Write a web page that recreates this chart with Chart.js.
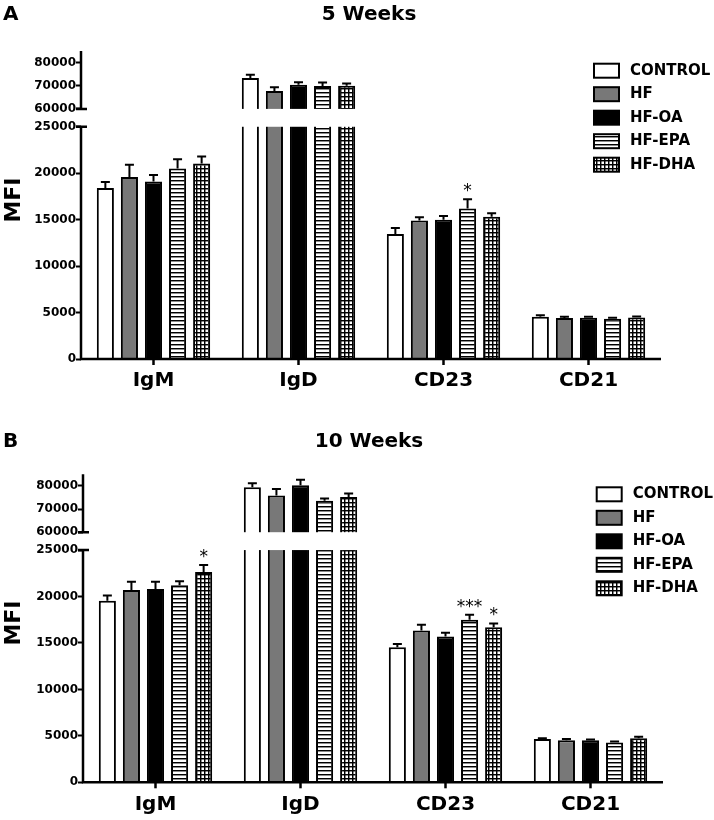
<!DOCTYPE html>
<html>
<head>
<meta charset="utf-8">
<script src="https://cdn.jsdelivr.net/npm/chart.js@4.4.1/dist/chart.umd.min.js"></script>
<style>
  html, body { margin: 0; padding: 0; background: #fff; }
  canvas { display: block; }
</style>
</head>
<body>
<canvas id="week5" width="714" height="410"></canvas>
<canvas id="week10" width="714" height="410"></canvas>
<script>
const categories = ['IgM', 'IgD', 'CD23', 'CD21'];
const groups = ['CONTROL', 'HF', 'HF-OA', 'HF-EPA', 'HF-DHA'];
const yTicks = [0, 5000, 10000, 15000, 20000, 25000, 60000, 70000, 80000];

// rows follow `groups`, columns follow `categories`
const mean5wk = [
  [18400, 73300, 13450, 4550],
  [19600, 67700, 14900, 4420],
  [19100, 70400, 15000, 4450],
  [20500, 69900, 16200, 4340],
  [21050, 70000, 15300, 4480],
];
const sem5wk = [
  [650, 1400, 650, 150],
  [1300, 1600, 350, 130],
  [700, 1100, 400, 100],
  [1000, 1500, 1000, 100],
  [750, 1000, 400, 100],
];
const sig5wk = [
  ['', '', '', ''],
  ['', '', '', ''],
  ['', '', '', ''],
  ['', '', '*', ''],
  ['', '', '', ''],
];

const mean10wk = [
  [19550, 79450, 14550, 4670],
  [20700, 75900, 16350, 4530],
  [20800, 80300, 15700, 4530],
  [21200, 73600, 17500, 4290],
  [22650, 75200, 16700, 4750],
];
const sem10wk = [
  [550, 1700, 350, 80],
  [900, 2700, 600, 120],
  [800, 2300, 400, 90],
  [450, 1000, 550, 90],
  [750, 1500, 400, 150],
];
const sig10wk = [
  ['', '', '', ''],
  ['', '', '', ''],
  ['', '', '', ''],
  ['', '', '***', ''],
  ['*', '', '*', ''],
];

// broken y axis: 0-25000 below the gap, 60000-85000 above it
const LOW_MAX = 25000;
const HIGH_MIN = 60000;
const AXIS_MAX = 85000;
const LOW_FRAC = 0.754;
const HIGH_FRAC = 0.812;

class BrokenLinearScale extends Chart.LinearScale {
  static id = 'brokenLinear';
  static defaults = Chart.LinearScale.defaults;

  buildTicks() {
    this.min = 0;
    this.max = AXIS_MAX;
    this.start = 0;
    this.end = AXIS_MAX;
    return yTicks.map(v => ({ value: v }));
  }

  toFrac(v) {
    if (v <= LOW_MAX) return v / LOW_MAX * LOW_FRAC;
    if (v >= HIGH_MIN) return HIGH_FRAC + (v - HIGH_MIN) / (AXIS_MAX - HIGH_MIN) * (1 - HIGH_FRAC);
    return LOW_FRAC + (v - LOW_MAX) / (HIGH_MIN - LOW_MAX) * (HIGH_FRAC - LOW_FRAC);
  }

  getPixelForValue(value) {
    return this.bottom - this.toFrac(value) * (this.bottom - this.top);
  }

  getValueForPixel(pixel) {
    const f = (this.bottom - pixel) / (this.bottom - this.top);
    if (f <= LOW_FRAC) return f / LOW_FRAC * LOW_MAX;
    if (f >= HIGH_FRAC) return HIGH_MIN + (f - HIGH_FRAC) / (1 - HIGH_FRAC) * (AXIS_MAX - HIGH_MIN);
    return LOW_MAX + (f - LOW_FRAC) / (HIGH_FRAC - LOW_FRAC) * (HIGH_MIN - LOW_MAX);
  }
}
Chart.register(BrokenLinearScale);

const FONT = '"DejaVu Sans", Arial, sans-serif';

function makePattern(grid) {
  const c = document.createElement('canvas');
  c.width = 4;
  c.height = 4;
  const g = c.getContext('2d');
  g.fillStyle = '#fff';
  g.fillRect(0, 0, 4, 4);
  g.fillStyle = '#000';
  g.fillRect(0, 0, 4, 1);
  g.fillStyle = 'rgba(0,0,0,0.45)';
  g.fillRect(0, 1, 4, 1);
  if (grid) {
    g.fillStyle = '#000';
    g.fillRect(0, 0, 1, 4);
    g.fillStyle = 'rgba(0,0,0,0.45)';
    g.fillRect(1, 0, 1, 4);
  }
  return g.createPattern(c, 'repeat');
}

const fills = ['#ffffff', '#787878', '#000000', makePattern(false), makePattern(true)];

// error bars, axis break, stars, legend and headings
const decorPlugin = {
  id: 'decor',
  afterDatasetsDraw(chart, args, opts) {
    const { ctx, chartArea: a, scales: { y } } = chart;
    const yLow = y.getPixelForValue(LOW_MAX);
    const yHigh = y.getPixelForValue(HIGH_MIN);
    ctx.save();
    ctx.fillStyle = '#fff';
    ctx.fillRect(a.left, yHigh, a.right - a.left + 2, yLow - yHigh);

    ctx.strokeStyle = '#000';
    ctx.fillStyle = '#000';
    ctx.lineWidth = 2;
    ctx.font = '17px ' + FONT;
    ctx.textAlign = 'center';
    ctx.textBaseline = 'alphabetic';
    chart.data.datasets.forEach((ds, i) => {
      chart.getDatasetMeta(i).data.forEach((bar, j) => {
        const top = y.getPixelForValue(ds.data[j] + ds.errors[j]);
        ctx.beginPath();
        ctx.moveTo(bar.x, bar.y);
        ctx.lineTo(bar.x, top);
        ctx.moveTo(bar.x - 4.5, top);
        ctx.lineTo(bar.x + 4.5, top);
        ctx.stroke();
        if (ds.stars[j]) ctx.fillText(ds.stars[j], bar.x, top - 3);
      });
    });

    ctx.lineWidth = 2.5;
    ctx.beginPath();
    ctx.moveTo(a.left, a.bottom);
    ctx.lineTo(a.left, yLow);
    ctx.moveTo(a.left, yHigh);
    ctx.lineTo(a.left, a.top);
    ctx.moveTo(a.left - 5, yLow);
    ctx.lineTo(a.left + 6, yLow);
    ctx.moveTo(a.left - 5, yHigh);
    ctx.lineTo(a.left + 6, yHigh);
    ctx.moveTo(a.left - 1.25, a.bottom);
    ctx.lineTo(a.right, a.bottom);
    ctx.stroke();
    ctx.restore();
  },
  afterDraw(chart, args, opts) {
    const { ctx } = chart;
    ctx.save();
    ctx.fillStyle = '#000';
    ctx.textBaseline = 'alphabetic';
    ctx.font = 'bold 20px ' + FONT;
    ctx.textAlign = 'left';
    ctx.fillText(opts.letter, 3, opts.headY);
    ctx.textAlign = 'center';
    ctx.fillText(opts.title, 369, opts.headY);

    ctx.save();
    ctx.font = 'bold 22px ' + FONT;
    ctx.translate(20, opts.mfiY);
    ctx.rotate(-Math.PI / 2);
    ctx.fillText('MFI', 0, 0);
    ctx.restore();

    ctx.font = 'bold 15px ' + FONT;
    ctx.textAlign = 'left';
    ctx.textBaseline = 'middle';
    ctx.strokeStyle = '#000';
    ctx.lineWidth = 2;
    chart.data.datasets.forEach((ds, i) => {
      const cy = opts.legendY + i * 23.5;
      ctx.fillStyle = ds.backgroundColor;
      ctx.fillRect(opts.legendX, cy - 7, 25, 14);
      ctx.strokeRect(opts.legendX, cy - 7, 25, 14);
      ctx.fillStyle = '#000';
      ctx.fillText(ds.label, opts.legendX + 36, cy);
    });
    ctx.restore();
  }
};

function drawPanel(canvasId, means, sems, sigs, box, decor) {
  const datasets = groups.map((g, i) => ({
    label: g,
    data: means[i],
    errors: sems[i],
    stars: sigs[i],
    backgroundColor: fills[i],
    borderColor: '#000',
    borderWidth: 2,
    borderSkipped: 'start',
    barPercentage: 0.71,
    categoryPercentage: 0.83,
  }));

  return new Chart(document.getElementById(canvasId), {
    type: 'bar',
    data: { labels: categories, datasets: datasets },
    options: {
      responsive: false,
      animation: false,
      events: [],
      layout: { padding: { top: box.top, left: 0, right: 714 - box.right, bottom: 0 } },
      scales: {
        x: {
          grid: { display: true, drawOnChartArea: false, offset: false, color: '#000', tickLength: 6, tickWidth: 2.5 },
          border: { display: false },
          ticks: { color: '#000', padding: 4, font: { family: FONT, weight: 'bold', size: 20 } },
          afterFit: (s) => { s.height = 410 - box.bottom; },
        },
        y: {
          type: 'brokenLinear',
          min: 0,
          max: AXIS_MAX,
          grid: { display: true, drawOnChartArea: false, color: '#000', tickLength: 5, tickWidth: 2 },
          border: { display: false },
          ticks: {
            autoSkip: false,
            padding: 0,
            color: '#000',
            font: { family: FONT, weight: 'bold', size: 12 },
            callback: (v) => String(v),
          },
          afterFit: (s) => { s.width = box.left; },
        },
      },
      plugins: {
        legend: { display: false },
        tooltip: { enabled: false },
        decor: decor,
      },
    },
    plugins: [decorPlugin],
  });
}

drawPanel('week5', mean5wk, sem5wk, sig5wk,
  { top: 51, bottom: 359, left: 81, right: 661 },
  { letter: 'A', title: '5 Weeks', headY: 20, mfiY: 200, legendX: 594, legendY: 70.7 });

drawPanel('week10', mean10wk, sem10wk, sig10wk,
  { top: 64.3, bottom: 372.3, left: 83, right: 663 },
  { letter: 'B', title: '10 Weeks', headY: 37, mfiY: 213, legendX: 596.7, legendY: 84.3 });
</script>
</body>
</html>
